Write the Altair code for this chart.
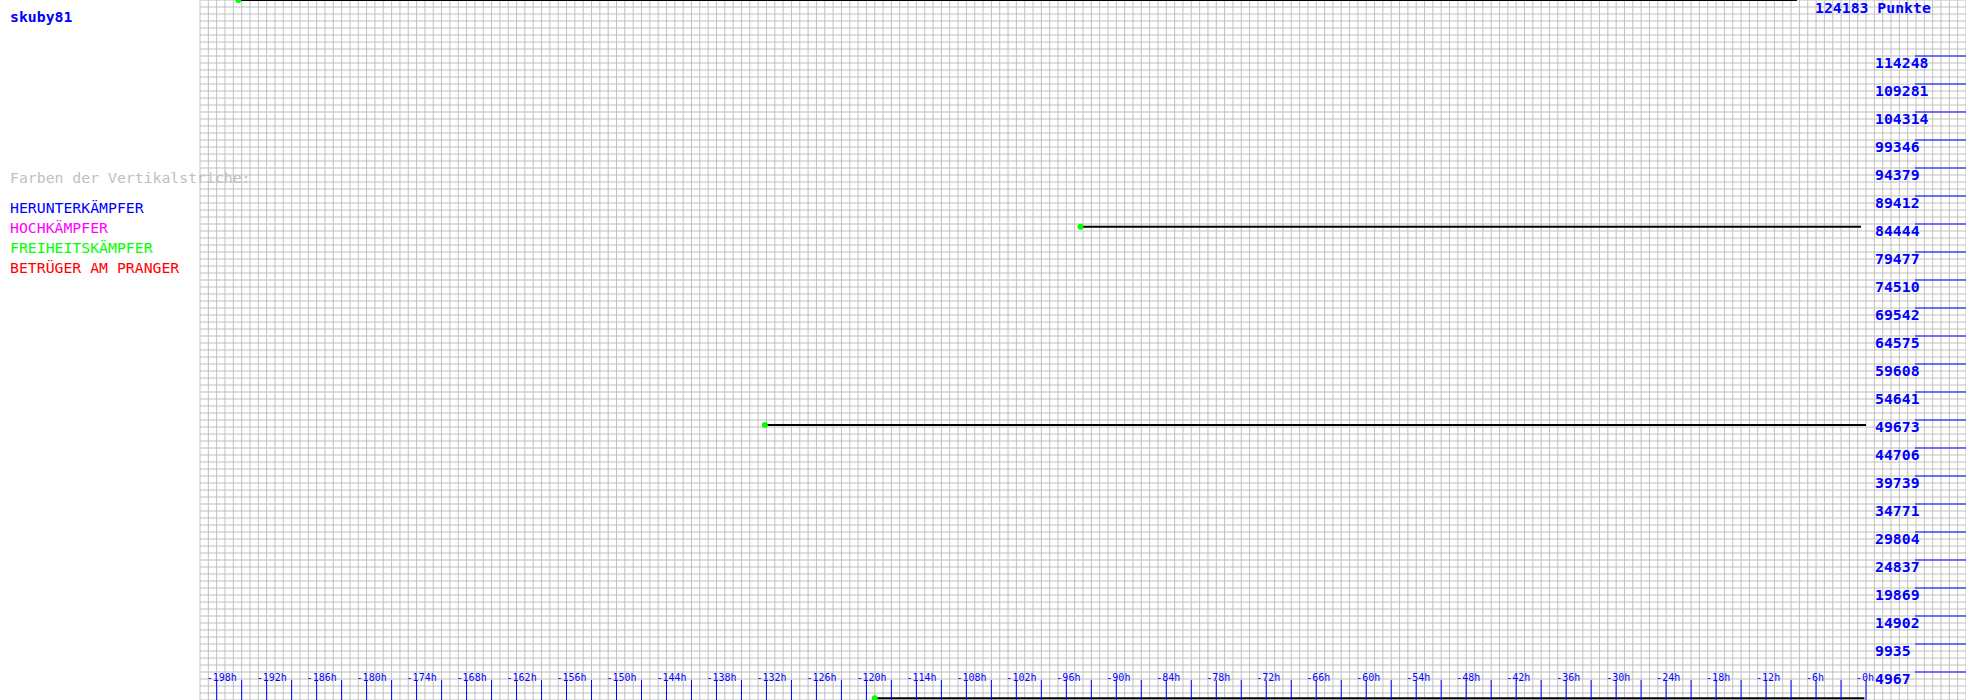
import altair as alt
import pandas as pd

# ---- data ----
player = "skuby81"
max_points = 124183
seg_start_h = [-195.4, -132.2, -119.0, -94.3]
seg_end_h = [-8.3, 0.0, -0.2, -0.6]
seg_points = [124183, 48790, 300, 83970]

y_tick_values = [4967, 9935, 14902, 19869, 24837, 29804, 34771, 39739, 44706, 49673,
                 54641, 59608, 64575, 69542, 74510, 79477, 84444, 89412, 94379, 99346,
                 104314, 109281, 114248]
y_tick_labels = ["4967", "9935", "14902", "19869", "24837", "29804", "34771", "39739",
                 "44706", "49673", "54641", "59608", "64575", "69542", "74510", "79477",
                 "84444", "89412", "94379", "99346", "104314", "109281", "114248"]

x_label_hours = [-198, -192, -186, -180, -174, -168, -162, -156, -150, -144, -138, -132,
                 -126, -120, -114, -108, -102, -96, -90, -84, -78, -72, -66, -60, -54,
                 -48, -42, -36, -30, -24, -18, -12, -6, 0]
x_labels = ["-198h", "-192h", "-186h", "-180h", "-174h", "-168h", "-162h", "-156h",
            "-150h", "-144h", "-138h", "-132h", "-126h", "-120h", "-114h", "-108h",
            "-102h", "-96h", "-90h", "-84h", "-78h", "-72h", "-66h", "-60h", "-54h",
            "-48h", "-42h", "-36h", "-30h", "-24h", "-18h", "-12h", "-6h", "-0h"]
x_tick_hours = list(range(-198, 1, 3))

legend_title = "Farben der Vertikalstriche:"
legend_items = ["HERUNTERKÄMPFER", "HOCHKÄMPFER", "FREIHEITSKÄMPFER", "BETRÜGER AM PRANGER"]

# ---- layout ----
W, H = 1766, 700
FONT = "DejaVu Sans Mono"
BLUE = "#0000ff"
GRID = "#c0c0c0"

xs = alt.Scale(domain=[-200, 12], nice=False, zero=False)
ys = alt.Scale(domain=[0, max_points], nice=False, zero=False)

gx_df = pd.DataFrame({"h": list(range(-200, 13))})
gy_df = pd.DataFrame({"v": [max_points * k / 100 for k in range(101)]})

segs = pd.DataFrame({"start": seg_start_h, "end": seg_end_h, "pts": seg_points})
ticks_df = pd.DataFrame({"h": x_tick_hours})
xlab_df = pd.DataFrame({"h": x_label_hours, "lab": x_labels})
ylab_df = pd.DataFrame({"v": y_tick_values, "lab": y_tick_labels})
one = pd.DataFrame({"a": [0]})

X = lambda f: alt.X(f, scale=xs, axis=None)
Y = lambda f: alt.Y(f, scale=ys, axis=None)

grid_v = alt.Chart(gx_df).mark_rule(color=GRID, strokeWidth=1).encode(
    x=X("h:Q"), y=alt.value(0), y2=alt.value(H))
grid_h = alt.Chart(gy_df).mark_rule(color=GRID, strokeWidth=1).encode(
    y=Y("v:Q"), x=alt.value(0), x2=alt.value(W))

lines = alt.Chart(segs).mark_rule(color="black", strokeWidth=2).encode(
    x=X("start:Q"), x2="end:Q", y=Y("pts:Q"))

dots = alt.Chart(segs).mark_point(filled=True, color="#00ff00", size=36, opacity=1).encode(
    x=X("start:Q"), y=Y("pts:Q"))

xticks = alt.Chart(ticks_df).mark_rule(color=BLUE, strokeWidth=1).encode(
    x=X("h:Q"), y=alt.value(680), y2=alt.value(700))

xlabs = alt.Chart(xlab_df).mark_text(
    font=FONT, fontSize=10, color=BLUE, align="left", baseline="alphabetic", dx=-10
).encode(x=X("h:Q"), y=alt.value(681), text="lab:N")

yrules = alt.Chart(ylab_df).mark_rule(color=BLUE, strokeWidth=1).encode(
    y=Y("v:Q"), x=alt.value(1715), x2=alt.value(W))

ylabs = alt.Chart(ylab_df).mark_text(
    font=FONT, fontSize=14.8, fontWeight="bold", color=BLUE, align="left",
    baseline="alphabetic", dy=12
).encode(y=Y("v:Q"), x=alt.value(1675), text="lab:N")

def txt(s, x, y, color, size=14.8, weight="normal"):
    return alt.Chart(one).mark_text(
        text=s, font=FONT, fontSize=size, fontWeight=weight, color=color,
        align="left", baseline="alphabetic"
    ).encode(x=alt.value(x), y=alt.value(y))

texts = [
    txt(f"{max_points} Punkte", 1615, 13, BLUE, weight="bold"),
    txt(player, -190, 22, BLUE, weight="bold"),
    txt(legend_title, -190, 183, GRID),
    txt(legend_items[0], -190, 213, BLUE),
    txt(legend_items[1], -190, 233, "#ff00ff"),
    txt(legend_items[2], -190, 253, "#00ff00"),
    txt(legend_items[3], -190, 273, "#ff0000"),
]

chart = alt.layer(grid_v, grid_h, lines, dots, xticks, xlabs, yrules, ylabs, *texts).properties(
    width=W, height=H,
    padding={"left": 200, "top": 0, "right": 0, "bottom": 0},
    autosize=alt.AutoSizeParams(type="none"),
    background="white",
).configure_view(strokeWidth=0)

chart.save("out.html", embed_options={"renderer": "svg", "actions": False})
